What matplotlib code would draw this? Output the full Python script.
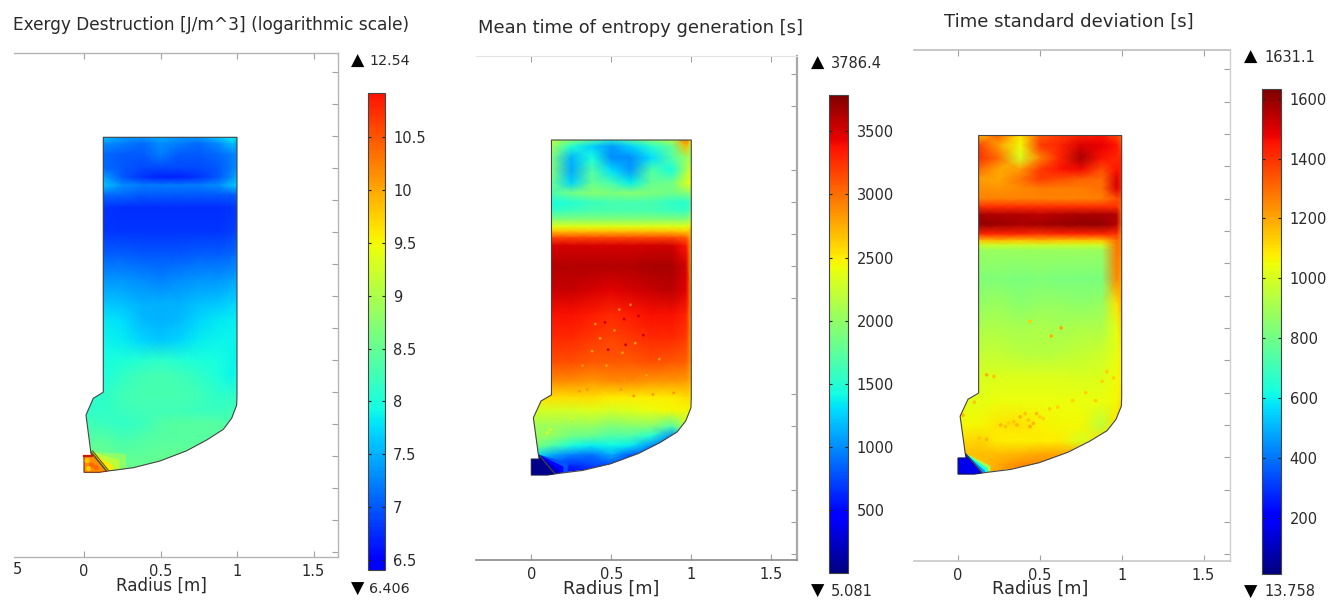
import numpy as np
import matplotlib
matplotlib.use("Agg")
import matplotlib.pyplot as plt
from matplotlib.colors import ListedColormap, Normalize
from matplotlib.patches import Polygon
from matplotlib.cm import ScalarMappable

W, H = 1332, 600

titles = ["Exergy Destruction [J/m^3] (logarithmic scale)",
          "Mean time of entropy generation [s]",
          "Time standard deviation [s]"]
max_labels = ["12.54", "3786.4", "1631.1"]
min_labels = ["6.406", "5.081", "13.758"]
cbar_ticks = [[6.5, 7, 7.5, 8, 8.5, 9, 9.5, 10, 10.5],
              [500, 1000, 1500, 2000, 2500, 3000, 3500],
              [200, 400, 600, 800, 1000, 1200, 1400, 1600]]
cbar_ranges = [(6.406, 10.92), (5.081, 3786.4), (13.758, 1631.1)]
x_ticks = [0, 0.5, 1, 1.5]
x_tick_labels = ["0", "0.5", "1", "1.5"]

# vessel outline (radius, height) in metres
body_r = [0.044, 0.013, 0.061, 0.121, 0.126, 0.126, 1.0, 1.0, 0.998, 0.965, 0.911, 0.802, 0.671, 0.497, 0.322, 0.170, 0.148]
body_z = [0.025, 0.254, 0.359, 0.394, 0.398, 1.99, 1.99, 0.379, 0.317, 0.234, 0.165, 0.098, 0.031, -0.033, -0.075, -0.094, -0.097]
inlet_r = [0.0, 0.0, 0.05, 0.044, 0.148, 0.10]
inlet_z = [-0.104, -0.004, -0.004, 0.025, -0.097, -0.104]

r_columns = [0.0, 0.13, 0.25, 0.38, 0.5, 0.62, 0.75, 0.88, 0.97, 1.0]

p1_z = [2.0, 1.95, 1.88, 1.8, 1.74, 1.69, 1.63, 1.55, 1.4, 1.25, 1.1, 0.95, 0.85, 0.72, 0.6, 0.5, 0.38, 0.28, 0.2, 0.1, 0.0, -0.1]
p1_values = [
    [7.6, 7.7, 7.4, 7.4, 7.5, 7.4, 7.4, 7.7, 7.9, 7.8],
    [7.2, 7.3, 7.2, 7.1, 7.3, 7.2, 7.1, 7.3, 7.6, 7.4],
    [7.1, 7.1, 7.0, 7.0, 7.2, 7.0, 7.0, 7.1, 7.2, 7.3],
    [7.1, 7.1, 7.0, 6.9, 6.9, 6.9, 6.9, 7.0, 7.2, 7.3],
    [7.3, 7.4, 7.0, 6.8, 6.7, 6.7, 6.8, 7.0, 7.3, 7.5],
    [7.7, 7.6, 7.3, 7.2, 7.2, 7.2, 7.2, 7.3, 7.6, 7.6],
    [7.0, 7.1, 7.1, 7.0, 7.0, 7.0, 7.0, 7.0, 7.0, 7.1],
    [6.75, 6.8, 6.75, 6.75, 6.75, 6.75, 6.75, 6.75, 6.8, 6.85],
    [6.8, 6.8, 6.8, 6.8, 6.8, 6.8, 6.8, 6.8, 6.85, 6.9],
    [7.05, 7.05, 7.05, 7.0, 7.0, 7.0, 7.05, 7.05, 7.1, 7.15],
    [7.35, 7.35, 7.35, 7.3, 7.25, 7.3, 7.35, 7.35, 7.4, 7.45],
    [7.65, 7.65, 7.6, 7.5, 7.5, 7.5, 7.6, 7.65, 7.7, 7.7],
    [7.8, 7.8, 7.75, 7.55, 7.5, 7.55, 7.7, 7.8, 7.85, 7.85],
    [7.9, 7.9, 7.85, 7.7, 7.65, 7.7, 7.85, 7.9, 7.9, 7.9],
    [7.95, 7.95, 8.0, 8.05, 8.1, 8.05, 8.0, 7.95, 7.9, 7.9],
    [7.95, 8.0, 8.15, 8.25, 8.3, 8.25, 8.15, 8.0, 7.9, 7.95],
    [8.05, 8.1, 8.25, 8.3, 8.3, 8.3, 8.25, 8.1, 8.1, 8.15],
    [8.15, 8.15, 8.2, 8.25, 8.25, 8.25, 8.2, 8.2, 8.25, 8.25],
    [8.25, 8.2, 8.15, 8.2, 8.35, 8.4, 8.4, 8.4, 8.3, 8.3],
    [8.4, 8.4, 8.3, 8.35, 8.4, 8.4, 8.4, 8.4, 8.4, 8.4],
    [8.6, 8.55, 8.45, 8.45, 8.5, 8.5, 8.5, 8.5, 8.5, 8.5],
    [8.7, 8.7, 8.6, 8.55, 8.55, 8.5, 8.5, 8.5, 8.5, 8.5],
]

p2_z = [2.0, 1.95, 1.88, 1.8, 1.72, 1.66, 1.6, 1.55, 1.49, 1.45, 1.42, 1.38, 1.33, 1.2, 1.05, 0.9, 0.75, 0.6, 0.48, 0.38, 0.3, 0.2, 0.14, 0.08, 0.02, -0.05, -0.1]
p2_values = [
    [2250, 2200, 2000, 1800, 1500, 1750, 2000, 2200, 3000, 2500],
    [2300, 2050, 1500, 1250, 1050, 1250, 1500, 1800, 2700, 2100],
    [2300, 1900, 1150, 1450, 1000, 1000, 1300, 1700, 2000, 2100],
    [2200, 1900, 1100, 1700, 1300, 1050, 1700, 1450, 2100, 2300],
    [1900, 1800, 1250, 1800, 1650, 1350, 1800, 1850, 2300, 2400],
    [1650, 1700, 1850, 1950, 1900, 1950, 1900, 1850, 1950, 2050],
    [1450, 1450, 1500, 1600, 1650, 1650, 1650, 1550, 1500, 1700],
    [1550, 1550, 1600, 1650, 1650, 1650, 1650, 1600, 1550, 1800],
    [1950, 1950, 1950, 1950, 1950, 1950, 1950, 1950, 1950, 2200],
    [2350, 2350, 2350, 2350, 2350, 2350, 2350, 2350, 2350, 2500],
    [2650, 2650, 2650, 2650, 2650, 2650, 2650, 2650, 2600, 2700],
    [3150, 3150, 3150, 3150, 3150, 3150, 3150, 3150, 3050, 2700],
    [3500, 3500, 3500, 3500, 3500, 3500, 3520, 3520, 3350, 2700],
    [3620, 3620, 3620, 3620, 3620, 3620, 3640, 3650, 3500, 2700],
    [3550, 3550, 3550, 3500, 3450, 3500, 3550, 3580, 3450, 2800],
    [3350, 3380, 3380, 3330, 3280, 3330, 3380, 3380, 3300, 2800],
    [3250, 3280, 3280, 3220, 3180, 3220, 3280, 3280, 3200, 2800],
    [3100, 3130, 3130, 3080, 3080, 3080, 3130, 3080, 3050, 2800],
    [2850, 2880, 2880, 2830, 2880, 2880, 2830, 2830, 2820, 2700],
    [2500, 2550, 2550, 2550, 2500, 2500, 2500, 2500, 2550, 2550],
    [2300, 2300, 2300, 2350, 2300, 2350, 2400, 2450, 2450, 2450],
    [2050, 2050, 2000, 2000, 1900, 1950, 1950, 1700, 2200, 2200],
    [2050, 2000, 1850, 1800, 1700, 1700, 1500, 1000, 1500, 1500],
    [1950, 1700, 1450, 1350, 1400, 1350, 1000, 800, 800, 800],
    [1400, 1100, 950, 900, 1100, 800, 800, 800, 800, 800],
    [700, 700, 600, 700, 700, 700, 700, 700, 700, 700],
    [500, 500, 500, 500, 500, 500, 500, 500, 500, 500],
]

p3_z = [2.0, 1.93, 1.85, 1.78, 1.72, 1.66, 1.6, 1.55, 1.5, 1.44, 1.38, 1.34, 1.31, 1.28, 1.1, 0.95, 0.8, 0.65, 0.5, 0.35, 0.2, 0.1, 0.02, -0.05, -0.1]
p3_values = [
    [900, 1150, 1320, 1100, 1320, 1380, 1420, 1450, 1350, 1300],
    [1050, 1370, 1220, 1050, 1380, 1420, 1500, 1480, 1450, 1350],
    [1180, 1400, 1300, 1000, 1260, 1420, 1570, 1450, 1420, 1420],
    [1050, 1300, 1200, 1220, 1380, 1450, 1470, 1350, 1450, 1420],
    [1100, 1220, 1200, 1280, 1380, 1350, 1320, 1300, 1500, 1400],
    [1200, 1240, 1230, 1250, 1270, 1270, 1270, 1290, 1500, 1400],
    [1250, 1260, 1260, 1260, 1260, 1260, 1260, 1270, 1350, 1350],
    [1400, 1400, 1400, 1400, 1400, 1400, 1400, 1400, 1400, 1300],
    [1570, 1570, 1560, 1560, 1540, 1560, 1570, 1570, 1550, 1300],
    [1600, 1600, 1590, 1570, 1580, 1590, 1600, 1600, 1550, 1300],
    [1420, 1420, 1420, 1420, 1400, 1420, 1420, 1420, 1400, 1250],
    [1150, 1150, 1170, 1150, 1170, 1150, 1150, 1150, 1300, 1250],
    [980, 980, 980, 980, 980, 980, 980, 980, 1280, 1250],
    [880, 880, 880, 880, 880, 880, 880, 880, 1280, 1250],
    [820, 830, 830, 820, 830, 820, 820, 820, 1250, 1200],
    [870, 870, 880, 850, 870, 870, 860, 870, 1100, 1180],
    [920, 920, 920, 910, 920, 910, 920, 920, 1030, 1120],
    [950, 960, 960, 940, 930, 940, 960, 980, 1030, 1080],
    [990, 1000, 1010, 1010, 1010, 1010, 1000, 1010, 1050, 1080],
    [1020, 1030, 1040, 1040, 1040, 1040, 1040, 1040, 1060, 1100],
    [1060, 1060, 1090, 1100, 1070, 1060, 1060, 950, 1100, 1150],
    [1110, 1120, 1080, 1070, 1080, 1080, 1000, 1100, 1100, 1100],
    [1150, 1160, 1160, 1170, 1200, 1200, 1200, 1200, 1200, 1200],
    [1120, 1150, 1200, 1250, 1250, 1250, 1250, 1250, 1250, 1250],
    [1100, 1150, 1200, 1250, 1250, 1250, 1250, 1250, 1250, 1250],
]

# isolated spots: radius, height, value
p2_spot_r = [.43, .57, .80, .38, .56, .64, .35, .76, .58, .89, .47, .65, .55, .32, .72, .58, .67, .59, .48, .70, .46, .10, .25, .12, .40, .52, .62, .30]
p2_spot_z = [.75, .66, .62, .67, .43, .39, .43, .40, .49, .41, .58, .72, .93, .58, .52, .87, .89, .71, .68, .77, .85, .16, .25, .18, .84, .80, .96, .42]
p2_spot_v = [2800, 2800, 2800, 2800, 2850, 2850, 2850, 2850, 2850, 2850, 2800, 2800, 2900, 2850, 2800, 3550, 3550, 3550, 3550, 3550, 3550, 2350, 2350, 2350, 2900, 2900, 2950, 2850]
p3_spot_r = [.26, .36, .46, .41, .52, .48, .175, .22, .91, .95, .78, .84, .03, .10, .175, .13, .44, .63, .44, .57, .31, .38, .56, .29, .34, .43, .50, .61, .70, .88]
p3_spot_z = [.20, .20, .21, .27, .24, .27, .51, .50, .53, .49, .40, .35, .26, .34, .11, .12, .19, .80, .84, .75, .21, .25, .30, .19, .22, .23, .25, .31, .35, .47]
p3_spot_v = [1170, 1170, 1170, 1150, 1130, 1170, 1170, 1150, 1130, 1130, 1130, 1130, 1170, 1150, 1170, 1150, 1190, 1200, 1130, 1180, 1130, 1170, 1130, 1150, 1150, 1150, 1130, 1120, 1120, 1120]

# inlet box and the graded wedge along its slanted side
inlet_values = [10.15, 60, 170]
inlet_spot_r = [0.02, 0.05, 0.03, 0.08]
inlet_spot_z = [-0.03, -0.06, -0.08, -0.075]
inlet_spot_v = [9.85, 10.4, 9.8, 10.4]
band_values = [[9.6, 9.1, 8.8], [250, 500, 800], [450, 650, 900]]
band_widths = [0.055, 0.035, 0.022]

# layout in image pixels: axes box, position of r=0, pixels per metre, z=0 row and pixels per metre
frames = [(14, 338, 53, 557, 84.0, 153.0, 455.7, 160.0),
          (476, 797, 55.7, 559.7, 531.3, 160.0, 458.4, 160.0),
          (914, 1230, 50, 560.7, 958.0, 163.7, 457.3, 161.7)]
cbar_boxes = [(367.7, 385.3, 92.7, 570), (829, 847.7, 95, 572.7), (1261.7, 1280.7, 89.3, 574)]
title_xy = [(13, 25), (478, 28), (944, 22)]
title_sizes = [12.25, 12.85, 13.1]
radius_xy = [(161, 586), (611, 589), (1040, 589)]
radius_sizes = [12.1, 12.8, 12.8]
top_mark_xy = [(351, 61), (811, 63), (1244, 57)]
bottom_mark_xy = [(351, 589), (811, 591), (1244, 592)]
mark_label_offsets = [18.5, 20, 20]
mark_label_sizes = [10.3, 10.5, 10.5]
cbar_pads = [5.5, 6.5, 6.5]
spine_colors = [("#b5b5b5", "#b5b5b5", "#b5b5b5"), ("#e4e4e4", "#a8a8a8", "#8a8a8a"), ("#bdbdbd", "#d0d0d0", "#c8c8c8")]
spine_widths = [(1.0, 1.0, 1.0), (0.8, 1.6, 1.2), (1.2, 1.0, 1.2)]
hidden_ticks = [[], [1.99, 0.79, 0.6, 0.0], []]
z_tick_values = [-0.6, -0.4, -0.2, 0.0, 0.2, 0.4, 0.6, 0.8, 1.0, 1.2, 1.4, 1.6, 1.8, 2.0, 2.2, 2.4]

jet = plt.get_cmap("jet")
cmaps = [ListedColormap(jet(np.linspace(0.11, 0.89, 256))), jet, jet]
grids = [(p1_z, p1_values), (p2_z, p2_values), (p3_z, p3_values)]
spots = [None, (p2_spot_r, p2_spot_z, p2_spot_v), (p3_spot_r, p3_spot_z, p3_spot_v)]
spot_sizes = [0, 4, 7]

plt.rcParams["font.family"] = "DejaVu Sans"
TEXT = "#2a2a2a"
fig = plt.figure(figsize=(W / 100, H / 100), dpi=100)


def box(x0, x1, y0, y1):
    return [x0 / W, 1 - y1 / H, (x1 - x0) / W, (y1 - y0) / H]


for i in range(3):
    x0, x1, y0, y1, r0, sx, z0, sz = frames[i]
    ax = fig.add_axes(box(x0, x1, y0, y1))
    ax.set_xlim((x0 - r0) / sx, (x1 - r0) / sx)
    ax.set_ylim((z0 - y1) / sz, (z0 - y0) / sz)
    norm = Normalize(*cbar_ranges[i])
    cmap = cmaps[i]

    zz, vals = grids[i]
    mesh = ax.pcolormesh(r_columns, zz, np.array(vals, float), shading="gouraud", cmap=cmap, norm=norm, zorder=1)
    outline = Polygon(np.column_stack([body_r, body_z]), closed=True, transform=ax.transData, fill=False,
                      ec="#444444", lw=0.8, zorder=5)
    ax.add_patch(outline)
    mesh.set_clip_path(outline)

    if spots[i] is not None:
        sr, sz_, sv = spots[i]
        pts = ax.scatter(sr, sz_, c=sv, cmap=cmap, norm=norm, s=spot_sizes[i], lw=0, zorder=2)
        pts.set_clip_path(outline)

    # graded wedge along the slanted inlet side, widening toward the bottom, drawn wide to narrow
    a = np.array([0.044, 0.025])
    b = np.array([0.148, -0.097])
    n = np.array([0.76, 0.65])
    for k in [2, 1, 0]:
        w = band_widths[i] * (k + 1)
        bp = Polygon([a, b + n * w, b + n * w * np.array([1.0, -1.0]), b], closed=True,
                     fc=cmap(norm(band_values[i][k])), ec="none", zorder=3)
        ax.add_patch(bp)
        bp.set_clip_path(outline)
    ax.add_patch(Polygon(np.column_stack([inlet_r, inlet_z]), closed=True, fc=cmap(norm(inlet_values[i])),
                         ec="#7a3010" if i == 0 else "#1a1a50", lw=0.8, zorder=4))
    if i == 0:
        ax.scatter(inlet_spot_r, inlet_spot_z, c=inlet_spot_v, cmap=cmap, norm=norm, s=14, lw=0, zorder=4.5)
        ax.plot(inlet_r[1:3], inlet_z[1:3], color="#d01800", lw=1.6, zorder=5)
        ax.plot(np.array(inlet_r[3:5]) + 0.012, np.array(inlet_z[3:5]) + 0.005, color="#5a5a20", lw=0.8, zorder=5)
        ax.plot(inlet_r[3:5], inlet_z[3:5], color="#5a5a20", lw=0.8, zorder=5)

    ax.patch.set_visible(False)
    ax.spines["left"].set_visible(False)
    for s, c, lw in zip(["top", "right", "bottom"], spine_colors[i], spine_widths[i]):
        ax.spines[s].set_color(c)
        ax.spines[s].set_linewidth(lw)
    ax.set_xticks(x_ticks)
    ax.set_xticklabels(x_tick_labels)
    ax.tick_params(axis="x", direction="in", top=True, bottom=True, length=4.5, width=0.8,
                   color="#a0a0a0", labelsize=10.5, labelcolor=TEXT, pad=5)
    ax.set_yticks([z for z in z_tick_values if not any(abs(z - h) < 0.02 for h in hidden_ticks[i])])
    ax.yaxis.tick_right()
    ax.tick_params(axis="y", direction="in", length=4.5, width=0.8, color="#a0a0a0", labelright=False)

    fig.text(title_xy[i][0] / W, 1 - title_xy[i][1] / H, titles[i], fontsize=title_sizes[i], color=TEXT, ha="left", va="center")
    fig.text(radius_xy[i][0] / W, 1 - radius_xy[i][1] / H, "Radius [m]", fontsize=radius_sizes[i], color=TEXT, ha="center", va="center")
    tx, ty = top_mark_xy[i]
    bx, by = bottom_mark_xy[i]
    off = mark_label_offsets[i]
    fig.text(tx / W, 1 - ty / H, "▲", fontsize=12.5, color="black", ha="left", va="center")
    fig.text((tx + off) / W, 1 - ty / H, max_labels[i], fontsize=mark_label_sizes[i], color=TEXT, ha="left", va="center")
    fig.text(bx / W, 1 - by / H, "▼", fontsize=12.5, color="black", ha="left", va="center")
    fig.text((bx + off) / W, 1 - by / H, min_labels[i], fontsize=mark_label_sizes[i], color=TEXT, ha="left", va="center")

    cx0, cx1, cy0, cy1 = cbar_boxes[i]
    cax = fig.add_axes(box(cx0, cx1, cy0, cy1))
    cb = fig.colorbar(ScalarMappable(norm=norm, cmap=cmap), cax=cax, ticks=cbar_ticks[i])
    cb.ax.set_yticklabels([f"{t:g}" for t in cbar_ticks[i]])
    cb.ax.tick_params(direction="in", left=True, right=True, length=2.2, width=0.8, color="#222222",
                      labelsize=10.5, labelcolor=TEXT, pad=cbar_pads[i])
    cb.outline.set_edgecolor("#444444")
    cb.outline.set_linewidth(0.8)

# the first panel's -0.5 label is cut by the left edge of the image
fig.text(17 / W, 1 - 570 / H, "5", fontsize=10.5, color=TEXT, ha="center", va="center")

fig.savefig("out.png", dpi=100, facecolor="white")
